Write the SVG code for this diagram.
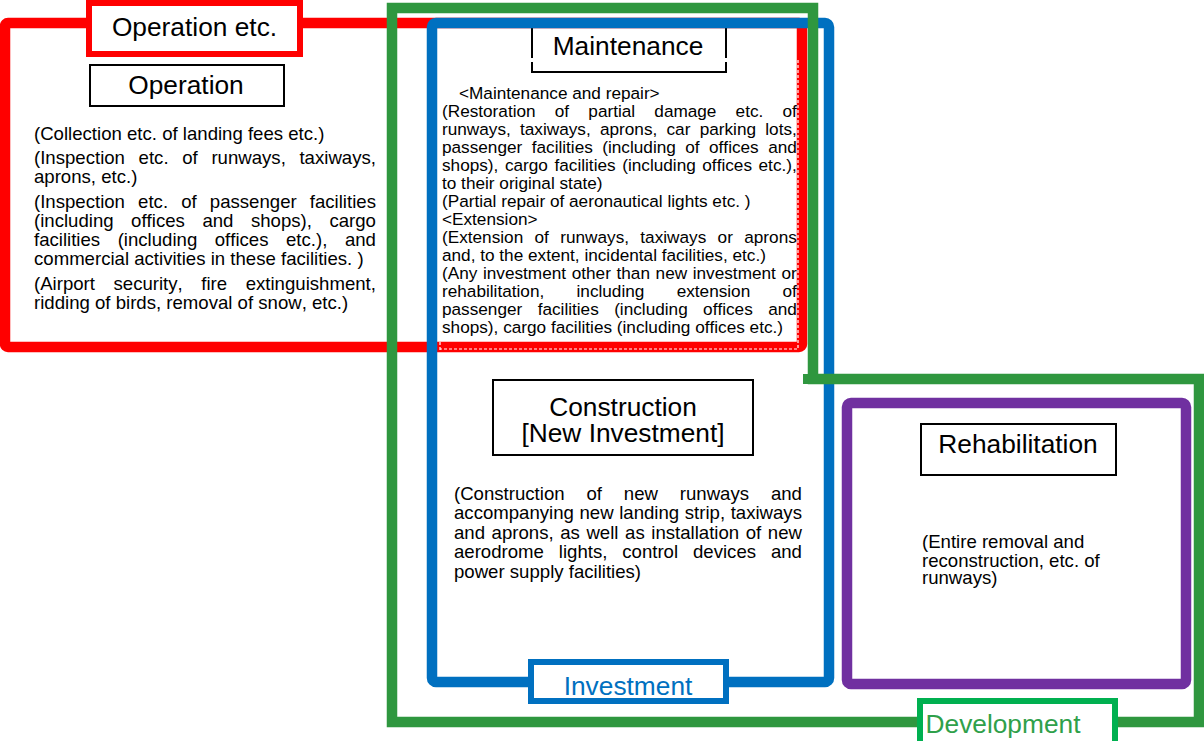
<svg xmlns="http://www.w3.org/2000/svg" width="1204" height="741" viewBox="0 0 1204 741">
  <style>
    text { font-family: "Liberation Sans", Arial, sans-serif; fill: #000; font-kerning: none; }
    .title { font-size: 26.3px; text-anchor: middle; }
    .op { font-size: 18.6px; }
    .mt { font-size: 17.2px; }
    .cn { font-size: 18.6px; }
    .frame { fill: none; stroke-width: 10.5; stroke-linejoin: miter; }
    .box { fill: #fff; stroke: #000; stroke-width: 2; }
    .tag { fill: #fff; stroke-width: 6; }
  </style>

  <rect width="1204" height="741" fill="#fff"/>

  <!-- Operation etc. frame -->
  <g id="frame-operation-etc">
    <rect class="frame" x="5" y="23" width="797" height="324" rx="3" stroke="#FF0000"/>
    <path d="M798,60 V349 H440 M440,342 V350" fill="none" stroke="#fff" stroke-width="1.2" stroke-dasharray="3 2"/>
    <rect class="tag" x="89" y="3" width="211" height="51" stroke="#FF0000"/>
    <text class="title" x="194.5" y="36">Operation etc.</text>
  </g>

  <!-- Operation (justified body, word-spacing per line) -->
  <g id="node-operation">
    <rect class="box" x="90" y="65" width="194" height="41"/>
    <text class="title" x="186" y="94">Operation</text>
    <text class="op" x="34" y="140">(Collection etc. of landing fees etc.)</text>
    <text class="op" x="34" y="164" word-spacing="8.49">(Inspection etc. of runways, taxiways,</text>
    <text class="op" x="34" y="183">aprons, etc.)</text>
    <text class="op" x="34" y="208" word-spacing="7.97">(Inspection etc. of passenger facilities</text>
    <text class="op" x="34" y="227" word-spacing="12.36">(including offices and shops), cargo</text>
    <text class="op" x="34" y="246" word-spacing="12.36">facilities (including offices etc.), and</text>
    <text class="op" x="34" y="265">commercial activities in these facilities. )</text>
    <text class="op" x="34" y="290" word-spacing="13.39">(Airport security, fire extinguishment,</text>
    <text class="op" x="34" y="309">ridding of birds, removal of snow, etc.)</text>
  </g>

  <!-- Maintenance -->
  <g id="node-maintenance">
    <path d="M532,28 V58 M532,62 V72 H726 V62 M726,58 V28" fill="none" stroke="#000" stroke-width="2"/>
    <text class="title" x="628" y="55">Maintenance</text>
    <text class="mt" x="459" y="98.5">&lt;Maintenance and repair&gt;</text>
    <text class="mt" x="442" y="116.5" word-spacing="14.41">(Restoration of partial damage etc. of</text>
    <text class="mt" x="442" y="134.6" word-spacing="4.47">runways, taxiways, aprons, car parking lots,</text>
    <text class="mt" x="442" y="152.6" word-spacing="4.66">passenger facilities (including of offices and</text>
    <text class="mt" x="442" y="170.7" word-spacing="1.79">shops), cargo facilities (including offices etc.),</text>
    <text class="mt" x="442" y="188.7">to their original state)</text>
    <text class="mt" x="442" y="206.8">(Partial repair of aeronautical lights etc. )</text>
    <text class="mt" x="442" y="224.8">&lt;Extension&gt;</text>
    <text class="mt" x="442" y="242.9" word-spacing="6.57">(Extension of runways, taxiways or aprons</text>
    <text class="mt" x="442" y="260.9">and, to the extent, incidental facilities, etc.)</text>
    <text class="mt" x="442" y="279" word-spacing="0.85">(Any investment other than new investment or</text>
    <text class="mt" x="442" y="297" word-spacing="27.51">rehabilitation, including extension of</text>
    <text class="mt" x="442" y="315" word-spacing="10.6">passenger facilities (including offices and</text>
    <text class="mt" x="442" y="333">shops), cargo facilities (including offices etc.)</text>
  </g>

  <!-- Construction [New Investment] -->
  <g id="node-construction">
    <rect class="box" x="493" y="380" width="260" height="75"/>
    <text class="title" x="623" y="416">Construction</text>
    <text class="title" x="623" y="442">[New Investment]</text>
    <text class="cn" x="454" y="500" word-spacing="16.71">(Construction of new runways and</text>
    <text class="cn" x="454" y="519.4" word-spacing="0.43">accompanying new landing strip, taxiways</text>
    <text class="cn" x="454" y="538.8" word-spacing="1.42">and aprons, as well as installation of new</text>
    <text class="cn" x="454" y="558.2" word-spacing="9.73">aerodrome lights, control devices and</text>
    <text class="cn" x="454" y="577.6">power supply facilities)</text>
  </g>

  <!-- Investment frame -->
  <g id="frame-investment">
    <rect class="frame" x="432" y="23" width="397" height="659" rx="4" stroke="#0070C0"/>
    <rect class="tag" x="531" y="662" width="195" height="39" stroke="#0070C0"/>
    <text class="title" x="628" y="695" style="fill:#0070C0">Investment</text>
  </g>

  <!-- Development frame -->
  <g id="frame-development">
    <path class="frame" d="M392,8 H813 V379 H1199 V722 H392 Z" stroke="#2F973F"/>
    <path d="M803,379 H813" stroke="#2F973F" stroke-width="10"/>
  </g>

  <!-- Rehabilitation -->
  <g id="node-rehabilitation">
    <rect x="847" y="403" width="339" height="281" rx="4" fill="#fff" stroke="#7030A0" stroke-width="10.5"/>
    <rect class="box" x="921" y="424" width="195" height="51"/>
    <text class="title" x="1018" y="453">Rehabilitation</text>
    <text class="op" x="922" y="548.3">(Entire removal and</text>
    <text class="op" x="922" y="566.7">reconstruction, etc. of</text>
    <text class="op" x="922" y="584.3">runways)</text>
  </g>

  <!-- Development tag -->
  <g id="tag-development">
    <rect class="tag" x="920" y="701" width="195" height="48" stroke="#00B050"/>
    <text class="title" x="1003" y="733" style="fill:#2FA04A">Development</text>
  </g>
</svg>
